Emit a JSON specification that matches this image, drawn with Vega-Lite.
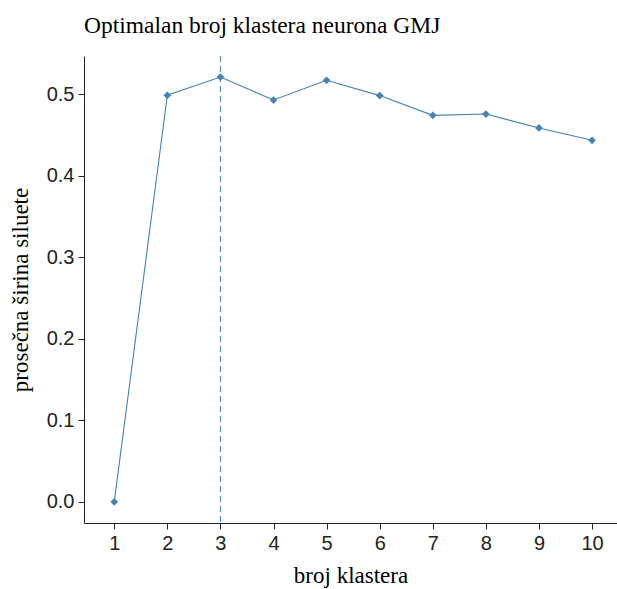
{
  "$schema": "https://vega.github.io/schema/vega-lite/v6.json",
  "width": 533,
  "height": 467,
  "autosize": {"type": "none"},
  "padding": {"left": 84, "top": 56, "right": 0, "bottom": 66},
  "background": "white",
  "config": {"view": {"stroke": null}},
  "title": {
    "text": "Optimalan broj klastera neurona GMJ",
    "anchor": "start",
    "frame": "group",
    "font": "Times New Roman, Liberation Serif, DejaVu Serif, serif",
    "fontSize": 23.5,
    "fontWeight": "normal",
    "color": "black",
    "offset": 18
  },
  "data": {
    "values": [
      {"k": 1, "s": 0.0},
      {"k": 2, "s": 0.4988},
      {"k": 3, "s": 0.5212},
      {"k": 4, "s": 0.4930},
      {"k": 5, "s": 0.5172},
      {"k": 6, "s": 0.4984},
      {"k": 7, "s": 0.4742},
      {"k": 8, "s": 0.4758},
      {"k": 9, "s": 0.4587},
      {"k": 10, "s": 0.4436}
    ]
  },
  "layer": [
    {
      "data": {"values": [{"k": 3}]},
      "mark": {"type": "rule", "color": "#4682B4", "strokeDash": [6, 4], "strokeWidth": 1},
      "encoding": {"x": {"field": "k", "type": "quantitative"}}
    },
    {
      "mark": {"type": "line", "color": "#4682B4", "strokeWidth": 1.1},
      "encoding": {
        "x": {
          "field": "k", "type": "quantitative",
          "scale": {"domain": [0.43, 10.47], "nice": false, "zero": false},
          "axis": {
            "values": [1,2,3,4,5,6,7,8,9,10],
            "title": "broj klastera",
            "titleFont": "Times New Roman, Liberation Serif, DejaVu Serif, serif",
            "titleFontSize": 23,
            "titleFontWeight": "normal",
            "titleColor": "black",
            "titlePadding": 11,
            "labelFont": "Arial, Liberation Sans, sans-serif",
            "labelFontSize": 20,
            "labelColor": "#222222",
            "labelPadding": 4,
            "tickSize": 6,
            "tickColor": "#222222",
            "domainColor": "#222222",
            "grid": false
          }
        },
        "y": {
          "field": "s", "type": "quantitative",
          "scale": {"domain": [-0.026, 0.547], "nice": false, "zero": false},
          "axis": {
            "values": [0, 0.1, 0.2, 0.3, 0.4, 0.5],
            "format": ".1f",
            "title": "prosečna širina siluete",
            "titleFont": "Times New Roman, Liberation Serif, DejaVu Serif, serif",
            "titleFontSize": 23,
            "titleFontWeight": "normal",
            "titleColor": "black",
            "titlePadding": 14,
            "labelFont": "Arial, Liberation Sans, sans-serif",
            "labelFontSize": 20,
            "labelColor": "#222222",
            "labelPadding": 4,
            "tickSize": 6,
            "tickColor": "#222222",
            "domainColor": "#222222",
            "grid": false
          }
        }
      }
    },
    {
      "mark": {"type": "point", "shape": "diamond", "filled": true, "color": "#4682B4", "size": 60, "opacity": 1},
      "encoding": {
        "x": {"field": "k", "type": "quantitative"},
        "y": {"field": "s", "type": "quantitative"}
      }
    }
  ]
}
